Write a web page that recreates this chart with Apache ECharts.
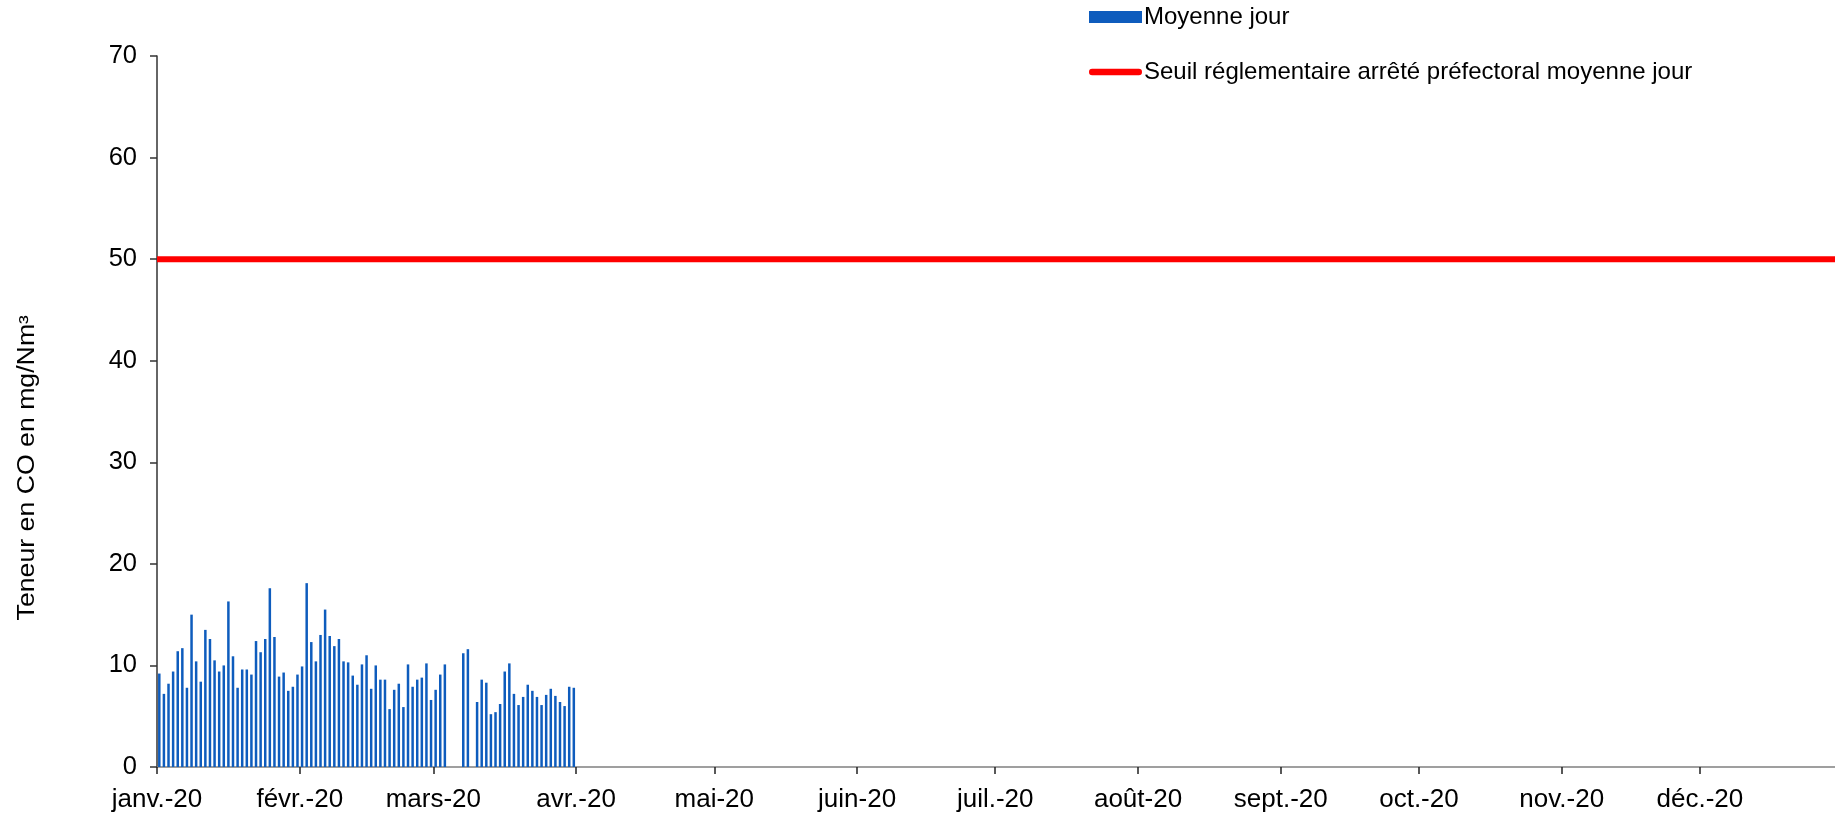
<!DOCTYPE html>
<html>
<head>
<meta charset="utf-8">
<script src="https://cdn.jsdelivr.net/npm/echarts@6/dist/echarts.min.js"></script>
<style>
html,body{margin:0;padding:0;background:#fff;}
#chart{width:1835px;height:819px;}
</style>
</head>
<body>
<div id="chart"></div>
<script>
// Daily CO means (mg/Nm3), 2020-01-01 .. 2020-03-31 (null = no data)
var startDate = '2020-01-01';
var janValues = [9.2,7.2,8.2,9.4,11.4,11.7,7.8,15.0,10.4,8.4,13.5,12.6,10.5,9.4,10.0,16.3,10.9,7.8,9.6,9.6,9.1,12.4,11.3,12.6,17.6,12.8,8.9,9.3,7.5,7.9,9.1];
var febValues = [9.9,18.1,12.3,10.4,13.0,15.5,12.9,11.9,12.6,10.4,10.3,9.0,8.1,10.1,11.0,7.7,10.0,8.6,8.6,5.7,7.6,8.2,5.9,10.1,7.9,8.6,8.8,10.2,6.6];
var marValues = [7.6,9.1,10.1,null,null,null,11.2,11.6,null,6.4,8.6,8.3,5.2,5.4,6.2,9.4,10.2,7.2,6.1,6.9,8.1,7.5,6.9,6.1,7.1,7.7,7.0,6.4,6.0,7.9,7.8];
var thresholdValue = 50;
var thresholdDates = ['2020-01-01T00:00:00', '2020-12-31T00:00:00'];
var axisStart = '2020-01-01T00:00:00';
var axisEnd = '2020-12-30T08:00:00';
var monthStarts = ['2020-01-01','2020-02-01','2020-03-01','2020-04-01','2020-05-01','2020-06-01','2020-07-01','2020-08-01','2020-09-01','2020-10-01','2020-11-01','2020-12-01'];
var monthLabels = ['janv.-20','févr.-20','mars-20','avr.-20','mai-20','juin-20','juil.-20','août-20','sept.-20','oct.-20','nov.-20','déc.-20'];
var yTicks = [0,10,20,30,40,50,60,70];
var seriesNames = ['Moyenne jour', 'Seuil réglementaire arrêté préfectoral moyenne jour'];
var yAxisTitle = 'Teneur en CO en mg/Nm³';

function ts(s){ return new Date(s).getTime(); }
var allValues = janValues.concat(febValues, marValues);
var barData = [];
var d0 = new Date(startDate + 'T12:00:00');
for (var i = 0; i < allValues.length; i++) {
  var d = new Date(d0.getTime());
  d.setDate(d0.getDate() + i);
  if (allValues[i] !== null) barData.push([d.getTime(), allValues[i]]);
}
var lineData = thresholdDates.map(function(t){ return [ts(t), thresholdValue]; });
var monthTs = monthStarts.map(function(m){ return ts(m + 'T00:00:00'); });

var font = 'Liberation Sans, Arial, sans-serif';
var chart = echarts.init(document.getElementById('chart'), null, {renderer: 'canvas'});
chart.setOption({
  animation: false,
  backgroundColor: '#ffffff',
  grid: {left: 157, right: 0, top: 56, bottom: 52, containLabel: false},
  legend: {
    orient: 'vertical',
    left: 1084,
    top: 0,
    itemGap: 31,
    itemWidth: 53,
    itemHeight: 12,
    textStyle: {fontFamily: font, fontSize: 24, color: '#000', padding: [0,0,0,-3]},
    data: [
      {name: seriesNames[0], icon: 'rect'},
      {name: seriesNames[1], icon: 'path://M6,0 L94,0 A6,6 0 0 1 94,12 L6,12 A6,6 0 0 1 6,0 Z'}
    ]
  },
  xAxis: {
    type: 'value',
    min: ts(axisStart),
    max: ts(axisEnd),
    axisLine: {show: true, onZero: false, lineStyle: {color: '#808080', width: 1.5}},
    axisTick: {show: true, length: 7, inside: false, customValues: monthTs, lineStyle: {color: '#222', width: 1.5}},
    axisLabel: {
      customValues: monthTs,
      margin: 20,
      fontFamily: font, fontSize: 26, color: '#000',
      formatter: function(v){ return monthLabels[new Date(v).getMonth()]; }
    },
    splitLine: {show: false}
  },
  yAxis: {
    type: 'value',
    min: yTicks[0],
    max: yTicks[yTicks.length - 1],
    interval: 10,
    axisLine: {show: true, lineStyle: {color: '#333', width: 1.5}},
    axisTick: {show: true, length: 7, inside: false, lineStyle: {color: '#333', width: 1.5}},
    axisLabel: {margin: 20, fontFamily: font, fontSize: 25.5, color: '#000'},
    splitLine: {show: false}
  },
  graphic: [{
    type: 'text',
    left: 16,
    top: 315,
    rotation: Math.PI / 2,
    scaleX: 1.16,
    style: {text: yAxisTitle, fontFamily: font, fontSize: 23, fill: '#000'}
  }],
  series: [
    {
      name: seriesNames[0],
      type: 'bar',
      barWidth: 2.5,
      itemStyle: {color: '#0E5CBD'},
      data: barData
    },
    {
      name: seriesNames[1],
      type: 'line',
      symbol: 'none',
      showSymbol: false,
      lineStyle: {color: '#FF0000', width: 6, cap: 'butt'},
      itemStyle: {color: '#FF0000'},
      data: lineData
    }
  ]
});
</script>
</body>
</html>
